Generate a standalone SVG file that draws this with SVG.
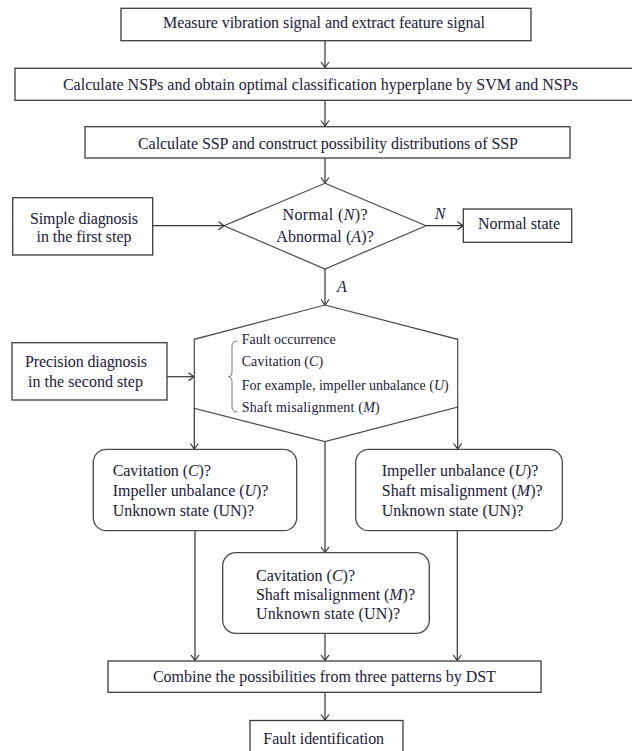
<svg xmlns="http://www.w3.org/2000/svg" width="632" height="751" viewBox="0 0 632 751">
  <style>
    .box { fill: #ffffff; stroke: #3c3c3c; stroke-width: 1.3; }
    .rbox { fill: #ffffff; stroke: #4a4a4a; stroke-width: 1.3; }
    .shape { fill: #ffffff; stroke: #4a4a4a; stroke-width: 1.2; }
    .edge { fill: none; stroke: #333333; stroke-width: 1.2; marker-end: url(#arrow); }
    .brace { fill: none; stroke: #777777; stroke-width: 1; }
    text { font-family: "Liberation Serif", "Times New Roman", serif; font-size: 16px; fill: #22203a; }
    .c { text-anchor: middle; }
    .s { font-size: 14px; }
    .i { font-style: italic; }
  </style>
  <defs>
    <marker id="arrow" markerUnits="userSpaceOnUse" markerWidth="12" markerHeight="12" refX="0" refY="0" viewBox="-7 -6 8 12" orient="auto" overflow="visible">
      <path d="M-5.5,-4 L0,0 L-5.5,4" fill="none" stroke="#333333" stroke-width="1.2"/>
    </marker>
  </defs>

  <!-- connectors -->
  <g id="connectors">
    <line class="edge" x1="325" y1="41" x2="325" y2="67.5"/>
    <line class="edge" x1="325" y1="100.5" x2="325" y2="126"/>
    <line class="edge" x1="325" y1="158" x2="325" y2="183"/>
    <line class="edge" x1="152.7" y1="225.7" x2="224" y2="225.7"/>
    <line class="edge" x1="426" y1="225.7" x2="463" y2="225.7"/>
    <line class="edge" x1="325" y1="269" x2="325" y2="305"/>
    <line class="edge" x1="167" y1="376.7" x2="194" y2="376.7"/>
    <line class="edge" x1="194.3" y1="408" x2="194.3" y2="449"/>
    <line class="edge" x1="457.7" y1="407" x2="457.7" y2="449"/>
    <line class="edge" x1="325" y1="441.7" x2="325" y2="552.5"/>
    <line class="edge" x1="195" y1="530.7" x2="195" y2="660.5"/>
    <line class="edge" x1="457.3" y1="530.7" x2="457.3" y2="660.5"/>
    <line class="edge" x1="325" y1="633.3" x2="325" y2="660.5"/>
    <line class="edge" x1="325" y1="692.3" x2="325" y2="720"/>
    <text class="i" x="440" y="218.5" text-anchor="middle">N</text>
    <text class="i" x="342" y="292" text-anchor="middle">A</text>
  </g>

  <g id="measure">
    <rect class="box" x="121" y="8.3" width="410" height="32.4"/>
    <text class="c" x="324" y="28" textLength="322">Measure vibration signal and extract feature signal</text>
  </g>

  <g id="nsp">
    <rect class="box" x="15" y="68.3" width="621" height="32"/>
    <text class="c" x="320.4" y="89.5" textLength="515">Calculate NSPs and obtain optimal classification hyperplane by SVM and NSPs</text>
  </g>

  <g id="ssp">
    <rect class="box" x="85" y="126.7" width="485" height="31.3"/>
    <text class="c" x="328" y="148.5" textLength="380">Calculate SSP and construct possibility distributions of SSP</text>
  </g>

  <g id="simple-diagnosis">
    <rect class="box" x="12.7" y="197.7" width="140" height="57.3"/>
    <text class="c" x="84" y="224" textLength="108">Simple diagnosis</text>
    <text class="c" x="84" y="242" textLength="95">in the first step</text>
  </g>

  <g id="first-decision">
    <polygon class="shape" points="325,183.3 426,225.7 325,269 224,225.7"/>
    <text class="c" x="325" y="220.3" textLength="85">Normal (<tspan class="i">N</tspan>)?</text>
    <text class="c" x="325" y="242" textLength="97.5">Abnormal (<tspan class="i">A</tspan>)?</text>
  </g>

  <g id="normal-state">
    <rect class="box" x="463.3" y="209" width="108.4" height="33.3"/>
    <text class="c" x="519" y="228.5" textLength="82">Normal state</text>
  </g>

  <g id="precision-diagnosis">
    <rect class="box" x="12" y="342.7" width="155" height="57.3"/>
    <text class="c" x="86" y="367" textLength="122">Precision diagnosis</text>
    <text class="c" x="85.5" y="387" textLength="115">in the second step</text>
  </g>

  <g id="fault-occurrence">
    <polygon class="shape" points="325,305 457.7,339.3 457.7,407 325,441.7 194.3,408.3 194.3,339.3"/>
    <path class="brace" d="M237.5,341 Q232,341 232,346 L232,371.5 Q232,376.8 228.3,376.8 Q232,376.8 232,382 L232,407 Q232,412 237.5,412"/>
    <text class="s" x="241.7" y="343.8" textLength="94">Fault occurrence</text>
    <text class="s" x="241.7" y="366.3" textLength="81.5">Cavitation (<tspan class="i">C</tspan>)</text>
    <text class="s" x="241.7" y="389.6" textLength="207">For example, impeller unbalance (<tspan class="i">U</tspan>)</text>
    <text class="s" x="241.7" y="412.2" textLength="138">Shaft misalignment (<tspan class="i">M</tspan>)</text>
  </g>

  <g id="pattern-cu">
    <rect class="rbox" x="93.3" y="449.3" width="203.4" height="81.4" rx="13" ry="13"/>
    <text x="112.7" y="476" textLength="98.3">Cavitation (<tspan class="i">C</tspan>)?</text>
    <text x="112.7" y="496" textLength="155.7">Impeller unbalance (<tspan class="i">U</tspan>)?</text>
    <text x="112.7" y="515.5" textLength="141.3">Unknown state (UN)?</text>
  </g>

  <g id="pattern-um">
    <rect class="rbox" x="355.7" y="449.3" width="206.6" height="81.4" rx="13" ry="13"/>
    <text x="381.7" y="476" textLength="156.7">Impeller unbalance (<tspan class="i">U</tspan>)?</text>
    <text x="381.7" y="496" textLength="161">Shaft misalignment (<tspan class="i">M</tspan>)?</text>
    <text x="381.7" y="515.5" textLength="141.7">Unknown state (UN)?</text>
  </g>

  <g id="pattern-cm">
    <rect class="rbox" x="222.7" y="552.7" width="206.6" height="80.6" rx="13" ry="13"/>
    <text x="256" y="580.5" textLength="99">Cavitation (<tspan class="i">C</tspan>)?</text>
    <text x="256" y="599.5" textLength="159">Shaft misalignment (<tspan class="i">M</tspan>)?</text>
    <text x="256" y="619" textLength="144">Unknown state (UN)?</text>
  </g>

  <g id="combine">
    <rect class="box" x="108" y="661" width="433" height="31.3"/>
    <text class="c" x="324.4" y="682" textLength="343">Combine the possibilities from three patterns by DST</text>
  </g>

  <g id="fault-identification">
    <rect class="box" x="250" y="720.5" width="153" height="40"/>
    <text class="c" x="323.7" y="743.5" textLength="120.7">Fault identification</text>
  </g>
</svg>
